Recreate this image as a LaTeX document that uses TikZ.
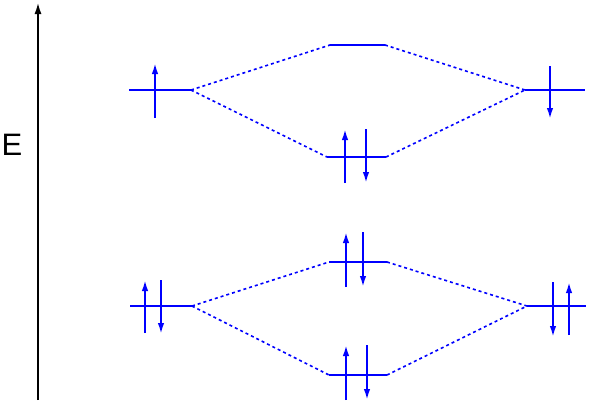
\documentclass[tikz,border=0pt]{standalone}
\usepackage{fontspec}
\setmainfont{Liberation Sans}
\usetikzlibrary{arrows.meta}

\begin{document}
\begin{tikzpicture}[x=1pt,y=-1pt,
   niveau/.style={draw=blue,line width=2pt},
   liaison/.style={draw=blue,line width=1.6pt,dash pattern=on 3pt off 3pt},
   spin/.style={draw=blue,line width=2pt,-{Latex[length=11pt,width=6.5pt]}}]

  \useasboundingbox (0,0) rectangle (593,402);

  % axe des energies
  \draw[line width=2.2pt,-{Latex[length=12pt,width=7pt]}] (38,400) -- (38,2);
  \node (E) at (12,145) {\fontsize{31}{33}\selectfont E};

  % extremites des niveaux
  \coordinate (a1g) at (129,90);  \coordinate (a1d) at (191,90);
  \coordinate (m1g) at (330,45);  \coordinate (m1d) at (385,45);
  \coordinate (m2g) at (327,157); \coordinate (m2d) at (386,157);
  \coordinate (b1g) at (525,90);  \coordinate (b1d) at (585,90);
  \coordinate (a2g) at (130,306); \coordinate (a2d) at (192,306);
  \coordinate (m3g) at (329,262); \coordinate (m3d) at (387,262);
  \coordinate (m4g) at (329,375); \coordinate (m4d) at (387,375);
  \coordinate (b2g) at (527,306); \coordinate (b2d) at (586,306);

  \foreach \n in {a1,m1,m2,b1,a2,m3,m4,b2} \draw[niveau] (\n g) -- (\n d);

  \foreach \from/\to in {a1d/m1g,a1d/m2g,m1d/b1g,m2d/b1g,
                         a2d/m3g,a2d/m4g,m3d/b2g,m4d/b2g}
    \draw[liaison] (\from) -- (\to);

  % electrons
  \draw[spin] (155,118) -- (155,63);
  \draw[spin] (345,183) -- (345,129);
  \draw[spin] (366,129) -- (366,183);
  \draw[spin] (550,66) -- (550,119);
  \draw[spin] (145,333) -- (145,280);
  \draw[spin] (161,280) -- (161,334);
  \draw[spin] (346,287) -- (346,232);
  \draw[spin] (363,232) -- (363,287);
  \draw[spin] (346,400) -- (346,345);
  \draw[spin] (367,345) -- (367,400);
  \draw[spin] (553,282) -- (553,337);
  \draw[spin] (569,335) -- (569,282);
\end{tikzpicture}
\end{document}
